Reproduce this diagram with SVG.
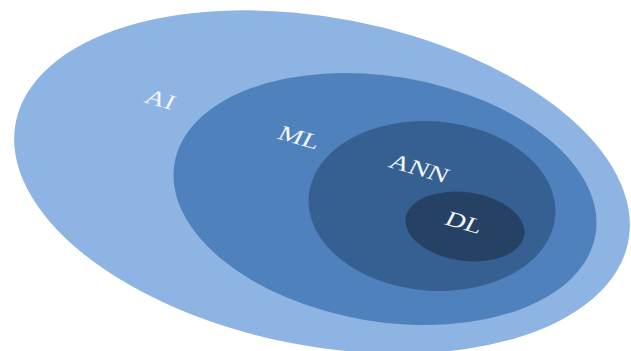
<svg xmlns="http://www.w3.org/2000/svg" width="631" height="351" viewBox="0 0 631 351">
<style>
.lbl{font-family:"Liberation Serif","Times New Roman",serif;font-size:21px;fill:#f2f5fa;text-anchor:middle}
</style>
<rect width="631" height="351" fill="#ffffff"/>
<g id="ai">
<ellipse cx="322" cy="182" rx="312" ry="164" transform="rotate(11 322 182)" fill="#8db4e2"/>
<g transform="translate(157 106) scale(1.35 1) rotate(21)"><text class="lbl" x="0" y="0">AI</text></g>
</g>
<g id="ml">
<ellipse cx="385" cy="199" rx="213.5" ry="122.6" transform="rotate(9.6 385 199)" fill="#4f81bd"/>
<g transform="translate(296 144) scale(1.35 1) rotate(21)"><text class="lbl" x="0" y="0">ML</text></g>
</g>
<g id="ann">
<ellipse cx="432" cy="206" rx="123.7" ry="84.7" transform="rotate(4.6 432 206)" fill="#376092"/>
<g transform="translate(416 175) scale(1.35 1) rotate(21)"><text class="lbl" x="0" y="0">ANN</text></g>
</g>
<g id="dl">
<ellipse cx="465" cy="226.5" rx="59.9" ry="34.3" transform="rotate(8 465 226.5)" fill="#254163"/>
<g transform="translate(461 229) scale(1.35 1) rotate(21)"><text class="lbl" x="0" y="0">DL</text></g>
</g>
<g id="connectors"/>
</svg>
